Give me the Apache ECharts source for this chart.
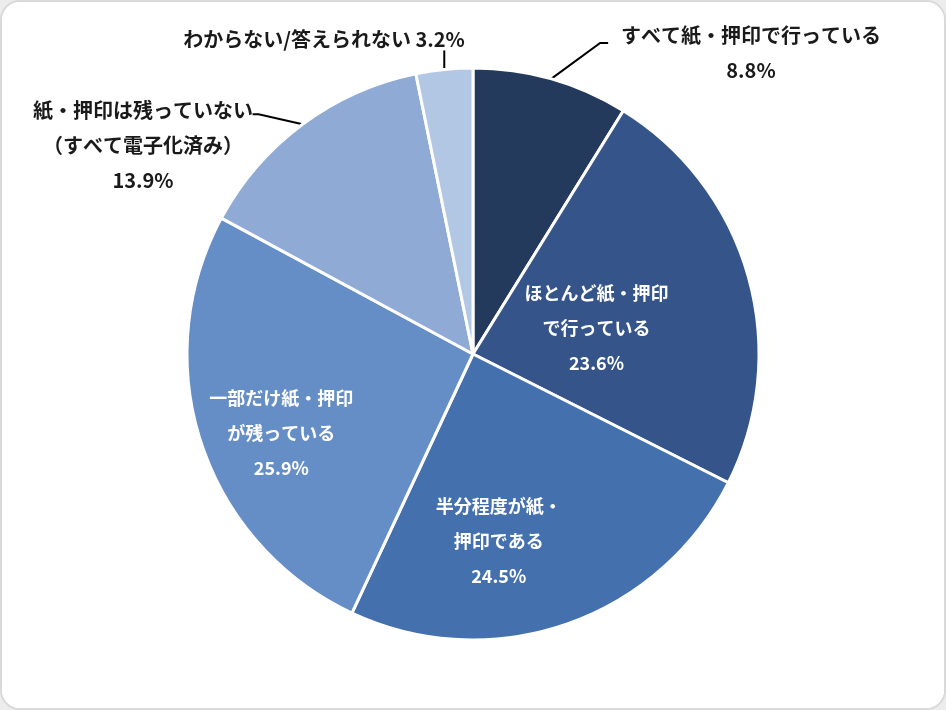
<!DOCTYPE html>
<html><head><meta charset="utf-8">
<script src="https://cdn.jsdelivr.net/npm/echarts@6/dist/echarts.min.js"></script>
<style>
html,body{margin:0;padding:0;background:#ececec;}
#wrap{position:absolute;left:0;top:0;width:942px;height:706px;border:2px solid #d9d9d9;border-radius:20px;background:#fff;overflow:hidden;}
#c{width:942px;height:706px;}
</style></head>
<body><div id="wrap"><div id="c"></div></div>
<script>
const categories = [
  'すべて紙・押印で行っている',
  'ほとんど紙・押印\nで行っている',
  '半分程度が紙・\n押印である',
  '一部だけ紙・押印\nが残っている',
  '紙・押印は残っていない\n（すべて電子化済み）',
  'わからない/答えられない'
];
const values = [8.8, 23.6, 24.5, 25.9, 13.9, 3.2];
const colors = ['#243a5d', '#35558a', '#4471ae', '#668ec6', '#8eaad5', '#b2c7e4'];

const font = '"Noto Sans CJK JP", "Noto Sans", sans-serif';
const insideLabel = {show: true, position: 'inside', color: '#fff', fontSize: 18, fontWeight: 'bold', lineHeight: 35, fontFamily: font, formatter: p => p.name + '\n' + p.value.toFixed(1) + '%'};
const outsideLabel = {show: true, position: 'outside', color: '#1a1a1a', fontSize: 20, fontWeight: 'bold', lineHeight: 35, fontFamily: font, align: 'center'};

const data = categories.map((n, i) => {
  const d = {name: n, value: values[i], itemStyle: {color: colors[i]}};
  if (i === 1 || i === 2 || i === 3) {
    d.label = insideLabel; d.labelLine = {show: false};
  } else if (i === 5) {
    d.label = Object.assign({}, outsideLabel, {formatter: p => p.name + ' ' + p.value.toFixed(1) + '%'});
  } else {
    d.label = Object.assign({}, outsideLabel, {formatter: p => p.name + '\n' + p.value.toFixed(1) + '%'});
  }
  return d;
});

// label placement (style only)
const place = {
  0: {x: 749, y: 51, line: [[0, 0], [49, -36], [57, -36]]},
  1: {dx: -17, dy: 14},
  2: {dx: -22, dy: 49},
  3: {dx: -53, dy: 33},
  4: {x: 141, y: 143, line: [[0, 0], [-44, -10], [-50, -10]]},
  5: {x: 322, y: 37, line: [[0, 0], [0, -19], [0, -19]]}
};

const chart = echarts.init(document.getElementById('c'), null, {renderer: 'canvas'});
chart.setOption({
  backgroundColor: '#fff',
  animation: false,
  series: [{
    type: 'pie',
    center: [471, 352],
    radius: [0, 286],
    startAngle: 90,
    clockwise: true,
    avoidLabelOverlap: false,
    itemStyle: {borderColor: '#fff', borderWidth: 3},
    labelLine: {show: true, lineStyle: {color: '#000', width: 2}},
    data: data,
    labelLayout: function (p) {
      const c = place[p.dataIndex];
      if (c.line) {
        const a = p.labelLinePoints ? p.labelLinePoints[0] : [0, 0];
        return {
          x: c.x, y: c.y, align: 'center', verticalAlign: 'middle',
          labelLinePoints: c.line.map(q => [a[0] + q[0], a[1] + q[1]])
        };
      }
      return {dx: c.dx, dy: c.dy};
    }
  }]
});
</script></body></html>
